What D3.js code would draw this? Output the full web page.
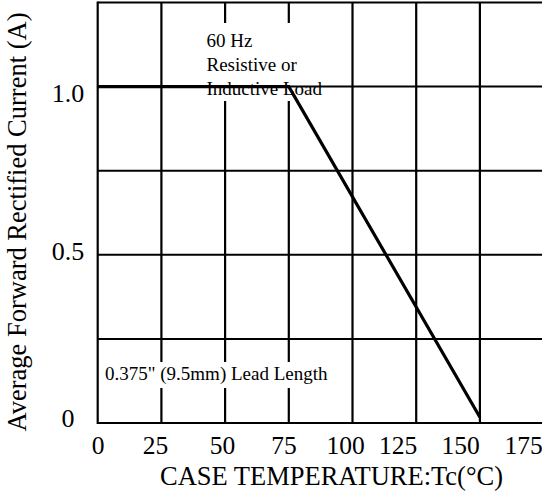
<!DOCTYPE html>
<html>
<head>
<meta charset="utf-8">
<script src="https://cdn.jsdelivr.net/npm/d3@7"></script>
<style>
  html, body { margin: 0; padding: 0; background: #fff; }
  svg { display: block; }
  text { font-family: "Liberation Serif", "Times New Roman", serif; fill: #000; }
</style>
</head>
<body>
<svg id="chart" width="542" height="491"></svg>
<script>
// ---- data ----
const temperatures = [0, 75, 150];          // °C
const currents = [1.0, 1.0, 0.017];          // A
const xTicks = [0, 25, 50, 75, 100, 125, 150, 175];
const xTickLabels = ["0", "25", "50", "75", "100", "125", "150", "175"];
const yGrid = [0, 0.25, 0.5, 0.75, 1.0, 1.25];
const yTicks = [0, 0.5, 1.0];
const yTickLabels = ["0", "0.5", "1.0"];
const xTitle = "CASE TEMPERATURE:Tc(°C)";
const yTitle = "Average Forward Rectified Current (A)";
const noteTop = ["60 Hz", "Resistive or", "Inductive Load"];
const noteBottom = "0.375\" (9.5mm) Lead Length";

// ---- layout ----
const svg = d3.select("#chart");
const x = d3.scaleLinear().domain([0, 175]).range([97.7, 543.6]);
const y = d3.scaleLinear().domain([0, 1.25]).range([423, 2.5]);
// label placement scales (labels in the original are not exactly on grid lines)
const xLab = d3.scaleLinear().domain(xTicks).range([98, 155.5, 222.5, 284, 345.5, 398, 460.5, 523.5]);
const yLab = d3.scaleLinear().domain([0, 0.5, 1.0]).range([418, 251, 92.5]);

// vertical grid lines
svg.append("g").selectAll("line").data(xTicks.filter(d => d > 0)).join("line")
  .attr("x1", d => x(d)).attr("x2", d => x(d))
  .attr("y1", y(1.25)).attr("y2", y(0))
  .attr("stroke", "#000").attr("stroke-width", 2.2);

// white boxes behind annotations (break vertical grid lines)
svg.append("rect").attr("x", 200).attr("y", 23).attr("width", 140).attr("height", 78).attr("fill", "#fff");
svg.append("rect").attr("x", 100).attr("y", 362).attr("width", 235).attr("height", 26).attr("fill", "#fff");

// horizontal grid lines
svg.append("g").selectAll("line").data(yGrid).join("line")
  .attr("x1", x(0)).attr("x2", 542)
  .attr("y1", d => y(d)).attr("y2", d => y(d))
  .attr("stroke", "#000").attr("stroke-width", 2);

// left border
svg.append("line").attr("x1", x(0)).attr("x2", x(0)).attr("y1", y(1.25) - 1).attr("y2", y(0) + 1)
  .attr("stroke", "#000").attr("stroke-width", 2.2);

// annotations
svg.append("g").selectAll("text").data(noteTop).join("text")
  .attr("x", 206.5).attr("y", (d, i) => 46.5 + i * 24)
  .attr("font-size", 19).text(d => d);
svg.append("text").attr("x", 105).attr("y", 380).attr("font-size", 19).text(noteBottom);

// data line
const line = d3.line().x(d => x(d[0])).y(d => y(d[1]));
svg.append("path").datum(temperatures.map((t, i) => [t, currents[i]]))
  .attr("d", line).attr("fill", "none").attr("stroke", "#000").attr("stroke-width", 3.2)
  .attr("stroke-linejoin", "miter");

// tick labels
svg.append("g").selectAll("text").data(xTicks).join("text")
  .attr("x", d => xLab(d)).attr("y", 454)
  .attr("text-anchor", "middle").attr("font-size", 25.5)
  .text((d, i) => xTickLabels[i]);
svg.append("g").selectAll("text").data(yTicks).join("text")
  .attr("x", 68).attr("y", d => yLab(d)).attr("dy", "0.35em")
  .attr("text-anchor", "middle").attr("font-size", 26)
  .text((d, i) => yTickLabels[i]);

// axis titles
svg.append("text").attr("x", 331.5).attr("y", 484.5)
  .attr("text-anchor", "middle").attr("font-size", 28)
  .attr("textLength", 343).attr("lengthAdjust", "spacingAndGlyphs")
  .text(xTitle);
svg.append("text").attr("transform", "translate(26,222) rotate(-90)")
  .attr("text-anchor", "middle").attr("font-size", 26.5)
  .text(yTitle);
</script>
</body>
</html>
